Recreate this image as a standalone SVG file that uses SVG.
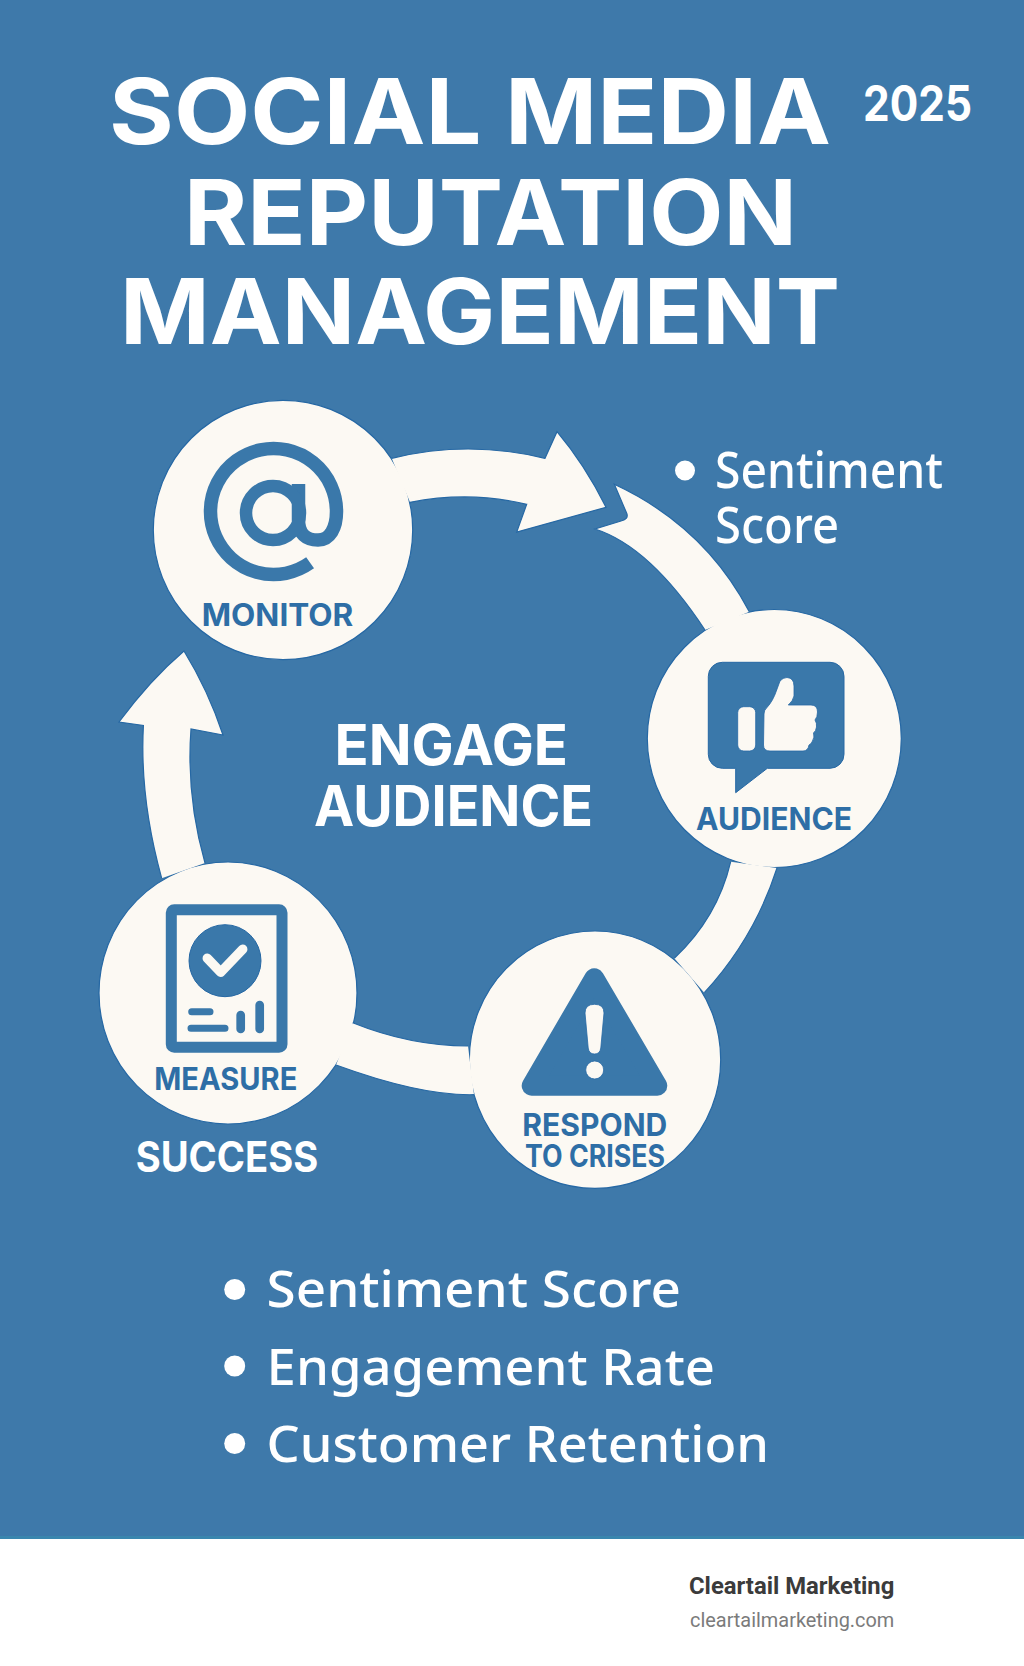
<svg xmlns="http://www.w3.org/2000/svg" width="1024" height="1666" viewBox="0 0 1024 1666">
<style>
.disc{fill:#fcf9f3;stroke:#2668a4;stroke-width:1.2}
.fill{fill:#fcf9f3;stroke:none}
.edge{fill:none;stroke:#2668a4;stroke-width:1.2}
.ink{fill:#3a78aa;stroke:#2668a4;stroke-width:1}
.cut{fill:#fcf9f3;stroke:#2668a4;stroke-width:.8}
.line{fill:none;stroke:#3a78aa;stroke-linecap:round}
.label{font-family:Inter,"Liberation Sans",sans-serif;font-weight:700;font-size:31px;fill:#2e6ea6}
.title{font-family:Inter,"Liberation Sans",sans-serif;font-weight:700;font-size:91px;fill:#fff}
.head{font-family:Inter,"Liberation Sans",sans-serif;font-weight:700;fill:#fff}
.bullet{font-family:"Noto Sans","Liberation Sans",sans-serif;font-weight:500;font-size:50px;fill:#fff}
.dot{fill:#fff}
</style>
<rect width="1024" height="1666" fill="#fff"/>
<rect width="1024" height="1539" fill="#3e79aa"/>
<rect y="1536" width="1024" height="3" fill="#3a86ae"/>

<g id="title">
<text class="title" x="109" y="143.5" textLength="722" lengthAdjust="spacingAndGlyphs">SOCIAL MEDIA</text>
<text class="title" x="184" y="245" textLength="613" lengthAdjust="spacingAndGlyphs">REPUTATION</text>
<text class="title" x="120" y="344" textLength="720" lengthAdjust="spacingAndGlyphs">MANAGEMENT</text>
<text class="head" x="863" y="121" font-size="49" textLength="109" lengthAdjust="spacingAndGlyphs">2025</text>
</g>

<g id="node-monitor">
<circle class="disc" cx="283" cy="530" r="129.7"/>
<path d="M310.1,562.8A63,63 0 1 1 336.5,511.5C336.5,528 330,540 318,540C306,540 298.5,534 298.5,520V484" fill="none" stroke="#3a78aa" stroke-width="13.5"/>
<circle cx="273" cy="513" r="27" fill="none" stroke="#3a78aa" stroke-width="12.5"/>
<text class="label" x="201.7" y="625.7" textLength="151.6" lengthAdjust="spacingAndGlyphs">MONITOR</text>
</g>

<g id="node-audience">
<ellipse class="disc" cx="774.3" cy="738.5" rx="127" ry="129"/>
<path class="ink" d="M722.3,662.3H830A14,14 0 0 1 844,676.3V754.3A14,14 0 0 1 830,768.3H767.3L735.7,792.7V768.3H722.3A14,14 0 0 1 708.3,754.3V676.3A14,14 0 0 1 722.3,662.3Z"/>
<rect class="cut" x="737.7" y="706.7" width="18" height="44.3" rx="6"/>
<path class="cut" d="M764,714Q764,710 767,707.5Q773,701 776.7,690L780,681Q783,677.5 787,677.5Q794,678 794,686V696Q793,701 788.3,705H811Q817.5,705 817.5,712Q817.5,717 815,720Q817,723 816.5,727Q816,731 813.5,733Q815,737 812,742Q811,744 809,745Q808,751 803,751H770Q763.5,751 763.5,745Z"/>
<text class="label" x="696" y="830" textLength="156" lengthAdjust="spacingAndGlyphs">AUDIENCE</text>
</g>

<g id="node-respond">
<ellipse class="disc" cx="595" cy="1059.7" rx="125.7" ry="128.7"/>
<path d="M594.3,978.3L531.7,1085.7H657.3Z" fill="#3a78aa" stroke="#3a78aa" stroke-width="20" stroke-linejoin="round"/>
<path class="cut" d="M585,1013Q585,1004.3 594.5,1004.3Q604,1004.3 604,1013L600.8,1048Q600,1054 594.5,1054Q589,1054 588.2,1048Z"/>
<circle class="cut" cx="594.7" cy="1070" r="9"/>
<text class="label" x="522.3" y="1136" textLength="145" lengthAdjust="spacingAndGlyphs">RESPOND</text>
<text class="label" x="525" y="1167.3" textLength="140" lengthAdjust="spacingAndGlyphs">TO CRISES</text>
</g>

<g id="node-measure">
<ellipse class="disc" cx="228" cy="993" rx="129" ry="131"/>
<rect x="171.3" y="909.8" width="110.7" height="137.5" rx="3" fill="none" stroke="#3a78aa" stroke-width="11"/>
<circle class="ink" cx="225" cy="960.7" r="36"/>
<path d="M207.3,958.3L220.7,972.3L242.7,949.3" fill="none" stroke="#fcf9f3" stroke-width="9.5" stroke-linecap="round" stroke-linejoin="round"/>
<path class="line" stroke-width="7" d="M191.7,1011.7H210M191,1028.3H225"/>
<path class="line" stroke-width="8.7" d="M240.7,1015V1029M259.7,1005V1029"/>
<text class="label" x="154.3" y="1090" textLength="143" lengthAdjust="spacingAndGlyphs">MEASURE</text>
</g>

<g id="connectors">
<path class="fill" d="M391.7,458.3Q468,439.7 545,458.3L557,431.7Q585,465 606,507.3L516.7,532L526.7,504.3Q470,490.7 410,502.3Z"/>
<path class="edge" d="M391.7,458.3Q468,439.7 545,458.3L557,431.7Q585,465 606,507.3L516.7,532L526.7,504.3Q470,490.7 410,502.3"/>
<path class="fill" d="M749.3,611.7Q704.2,526 614.3,484.3L626.7,513.3Q629,519 621,521L595,529Q650,546.5 705,630Z"/>
<path class="edge" d="M749.3,611.7Q704.2,526 614.3,484.3L626.7,513.3Q629,519 621,521L595,529Q650,546.5 705,630"/>
<path class="fill" d="M777,868Q754.4,938.3 704.3,992.7L674.3,958.3Q717.5,918 730.7,861.7Z"/>
<path class="edge" d="M777,868Q754.4,938.3 704.3,992.7M674.3,958.3Q717.5,918 730.7,861.7"/>
<path class="fill" d="M468,1046Q409.7,1045.7 352.7,1022.7L336,1065Q421,1096 474,1094.7Z"/>
<path class="edge" d="M468,1046Q409.7,1045.7 352.7,1022.7M336,1065Q421,1096 474,1094.7"/>
<path class="fill" d="M161.7,878.3Q139.5,798 143.4,725.5L119,722Q150,680 184,651Q208,690 223,735L191,729Q186,796 205,863Z"/>
<path class="edge" d="M161.7,878.3Q139.5,798 143.4,725.5L119,722Q150,680 184,651Q208,690 223,735L191,729Q186,796 205,863"/>
</g>

<g id="center-label">
<text class="head" x="334.6" y="765" font-size="56" textLength="233.4" lengthAdjust="spacingAndGlyphs">ENGAGE</text>
<text class="head" x="314" y="826" font-size="56" textLength="279" lengthAdjust="spacingAndGlyphs">AUDIENCE</text>
<text class="head" x="135.7" y="1172" font-size="42" textLength="182.6" lengthAdjust="spacingAndGlyphs">SUCCESS</text>
</g>

<g id="side-list">
<circle class="dot" cx="685" cy="470.5" r="10"/>
<text class="bullet" x="715" y="487.5" textLength="228" lengthAdjust="spacingAndGlyphs">Sentiment</text>
<text class="bullet" x="715" y="543" textLength="124" lengthAdjust="spacingAndGlyphs">Score</text>
</g>

<g id="metrics-list">
<circle class="dot" cx="234.7" cy="1289.5" r="10.5"/>
<text class="bullet" x="266.6" y="1307" textLength="414.4" lengthAdjust="spacingAndGlyphs">Sentiment Score</text>
<circle class="dot" cx="234.7" cy="1366" r="10.5"/>
<text class="bullet" x="266.6" y="1384.5" textLength="448.4" lengthAdjust="spacingAndGlyphs">Engagement Rate</text>
<circle class="dot" cx="234.7" cy="1443.5" r="10.5"/>
<text class="bullet" x="266.6" y="1462" textLength="502.4" lengthAdjust="spacingAndGlyphs">Customer Retention</text>
</g>

<g id="footer">
<text x="689" y="1594" font-family="Roboto,'Liberation Sans',sans-serif" font-weight="700" font-size="24" fill="#3b3b3b" textLength="205.3" lengthAdjust="spacingAndGlyphs">Cleartail Marketing</text>
<text x="690" y="1627.3" font-family="Roboto,'Liberation Sans',sans-serif" font-size="20.5" fill="#7b7b7b" textLength="204.3" lengthAdjust="spacingAndGlyphs">cleartailmarketing.com</text>
</g>
</svg>
